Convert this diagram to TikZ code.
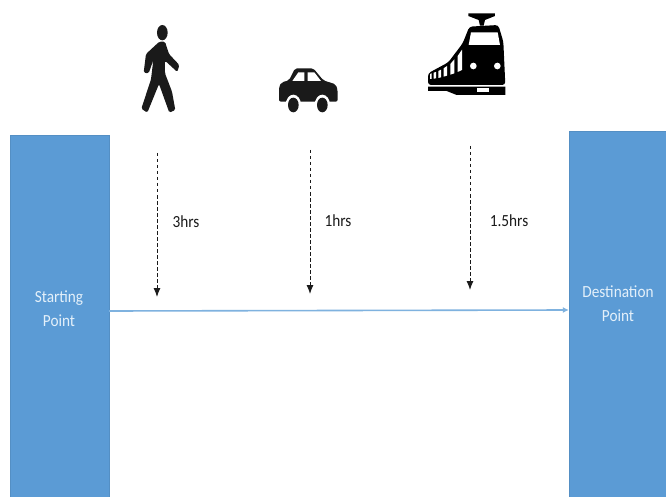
\documentclass[tikz,border=0pt]{standalone}
\usepackage{fontspec}
\setmainfont{Carlito}
\usetikzlibrary{arrows.meta}
\definecolor{boxblue}{HTML}{5B9BD5}
\definecolor{flowblue}{HTML}{7FB2DF}
\definecolor{boxtext}{HTML}{E4F0FA}
\definecolor{ink}{HTML}{1A1A1A}
\tikzset{
  endbox/.style={fill=boxblue,draw=boxblue!92!black,line width=0.4pt,inner sep=0pt},
  boxlabel/.style={text=boxtext,font=\fontsize{17}{24}\selectfont,align=center,inner sep=0pt,xscale=0.9},
  timelabel/.style={text=ink,font=\fontsize{17}{20}\selectfont,inner sep=0pt,xscale=0.9},
  timearrow/.style={draw=ink,dash pattern=on 3.5pt off 2.5pt,line width=1pt,-{Latex[length=9pt,width=7pt]}},
  flowarrow/.style={draw=flowblue,line width=1.6pt,-{Latex[length=6pt,width=6pt]}},
}
\begin{document}
\begin{tikzpicture}[x=1pt,y=-1pt]
\useasboundingbox (0,0) rectangle (666,497);
\fill[white] (0,0) rectangle (666,497);
% end boxes
\node[endbox,minimum width=99pt,minimum height=362pt] (start) at (59.5,316) {};
\node[endbox,minimum width=98pt,minimum height=366pt] (dest) at (618,314) {};
\node[boxlabel] (startlabel) at (59,308.5) {Starting\\Point};
\node[boxlabel] (destlabel) at (618,304) {Destination\\Point};
% connector
\coordinate (flowstart) at (start.east |- 0,311);
\coordinate (flowend) at (dest.west |- 0,310);
\draw[flowarrow] (flowstart) -- (flowend);
% dashed arrows
\coordinate (a1) at (157,153); \coordinate (b1) at (157,297);
\coordinate (a2) at (310,150); \coordinate (b2) at (310,294);
\coordinate (a3) at (470,146); \coordinate (b3) at (470,290);
\draw[timearrow] (a1) -- (b1);
\draw[timearrow] (a2) -- (b2);
\draw[timearrow] (a3) -- (b3);
\node[timelabel] (t1) at (186,222) {3hrs};
\node[timelabel] (t2) at (338,221) {1hrs};
\node[timelabel] (t3) at (509,221) {1.5hrs};
% walker
\begin{scope}[shift={(120,10)},x=0.3333pt,y=-0.3333pt]
\fill[ink] (127,68) ellipse [x radius=16,y radius=23];
\fill[ink,rounded corners=1.5pt] (118,95) -- (135,95) -- (147,132) -- (178,165) -- (172,186) -- (135,152) -- (135,190) -- (156,245) -- (166,300) -- (148,308) -- (117,222) -- (82,308) -- (64,296) -- (93,208) -- (100,150) -- (86,190) -- (71,188) -- (78,132) -- cycle;
\end{scope}
% car
\begin{scope}[shift={(265,55)},x=0.3333pt,y=-0.3333pt]
\fill[ink,rounded corners=2pt] (42,95) -- (50,82) -- (72,76) -- (90,40) -- (145,40) -- (175,76) -- (212,88) -- (218,105) -- (218,140) -- (42,140) -- cycle;
\fill[white] (82,78) -- (100,52) -- (118,52) -- (118,78) -- cycle;
\fill[white] (128,52) -- (148,52) -- (168,78) -- (128,78) -- cycle;
\fill[white] (85,150) ellipse [x radius=23,y radius=31];
\fill[white] (172,150) ellipse [x radius=23,y radius=31];
\fill[ink] (85,150) ellipse [x radius=16,y radius=22];
\fill[ink] (172,150) ellipse [x radius=16,y radius=22];
\end{scope}
% train
\begin{scope}[shift={(420,5)},x=0.3333pt,y=-0.3333pt]
\fill[black] (145,25) -- (225,25) -- (225,33) -- (195,45) -- (191,62) -- (180,62) -- (176,45) -- (145,33) -- cycle;
\fill[black,rounded corners=3pt] (148,65) -- (235,60) -- (250,110) -- (256,240) -- (24,240) -- (24,205) -- (85,172) -- (128,115) -- cycle;
\fill[white] (153,82) -- (233,82) -- (240,120) -- (146,120) -- cycle;
\fill[white] (160,183) circle [radius=10];
\fill[white] (232,183) circle [radius=10];
\fill[white] (30,207) -- (35,205) -- (35,222) -- (30,222) -- cycle;
\fill[white] (41,203) -- (48,201) -- (48,220) -- (41,221) -- cycle;
\fill[white] (55,198) -- (63,194) -- (63,217) -- (55,219) -- cycle;
\fill[white] (71,190) -- (81,183) -- (81,212) -- (71,215) -- cycle;
\fill[white] (91,177) -- (103,163) -- (103,205) -- (91,209) -- cycle;
\fill[white] (113,153) -- (126,134) -- (126,195) -- (113,201) -- cycle;
\fill[black] (24,245) -- (256,245) -- (256,270) -- (110,270) -- (80,258) -- (24,258) -- cycle;
\fill[white] (170,248) rectangle (208,262);
\end{scope}
\end{tikzpicture}
\end{document}
